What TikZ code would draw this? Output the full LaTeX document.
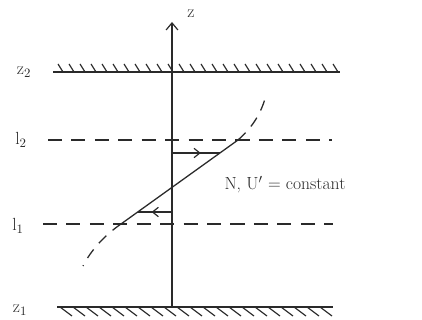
\documentclass[tikz,border=0pt]{standalone}
\usepackage{amsmath}
\usepackage{xcolor}
\usetikzlibrary{arrows.meta,decorations.markings}
\definecolor{sketchink}{HTML}{2A2A2A}

\begin{document}
\begin{tikzpicture}[
  x=0.03cm,
  y=-0.03cm,
  every node/.style={font=\fontsize{15}{18}\selectfont, text=sketchink},
  wall/.style={sketchink, line width=1.4pt},
  hatch/.style={sketchink, line width=1pt},
  level/.style={sketchink, line width=1.1pt, dash pattern=on 12pt off 8pt},
  profile/.style={sketchink, line width=1.1pt},
  tail/.style={sketchink, line width=1.1pt, dash pattern=on 9pt off 7pt},
  flow/.style={sketchink, line width=1pt, postaction={decorate},
    decoration={markings, mark=at position 0.6 with {\arrow{Straight Barb[length=5pt,width=8pt]}}}}
]
  \useasboundingbox (0,0) rectangle (422,320);

  % walls and axis
  \coordinate (topL) at (53,72);
  \coordinate (topR) at (340,72);
  \coordinate (botL) at (57,307);
  \coordinate (botR) at (333,307);
  \coordinate (axBase) at (172,307);
  \coordinate (axTip) at (172,22);

  \draw[wall] (topL) -- (topR);
  \draw[wall] (botL) -- (botR);
  \foreach \x in {58,69,...,335} {
    \draw[hatch] (\x,64) -- (\x+5,72);
  }
  \foreach \x in {60,73,...,325} {
    \draw[hatch] (\x,307) -- (\x+12,316);
  }
  \draw[sketchink, line width=1pt, -{Straight Barb[length=6pt,width=10pt]}] (axBase) -- (axTip);

  % dashed levels
  \coordinate (upL) at (48,140);
  \coordinate (upR) at (332,140);
  \coordinate (loL) at (43,224);
  \coordinate (loR) at (333,224);
  \draw[level] (upL) -- (upR);
  \draw[level] (loL) -- (loR);

  % velocity profile
  \coordinate (pLow) at (121,224);
  \coordinate (pHigh) at (238,140);
  \draw[profile] (pLow) -- (pHigh);
  \draw[tail] (pHigh) .. controls (254,126) and (262,111) .. (266,95);
  \draw[tail] (pLow) .. controls (105,235) and (91,250) .. (83,266);

  \coordinate (aUp0) at (172,153);
  \coordinate (aUp1) at (220,153);
  \coordinate (aLo0) at (172,212);
  \coordinate (aLo1) at (138,212);
  \draw[flow] (aUp0) -- (aUp1);
  \draw[flow] (aLo0) -- (aLo1);

  % labels
  \node (zLab) at (191,14) {z};
  \node (zTwo) at (24,72) {z$_2$};
  \node (lTwo) at (21,140) {l$_2$};
  \node (lOne) at (18,226) {l$_1$};
  \node (zOne) at (20,310) {z$_1$};
  \node (nLab) at (285,185) {N, U$'$ = constant};
\end{tikzpicture}
\end{document}
